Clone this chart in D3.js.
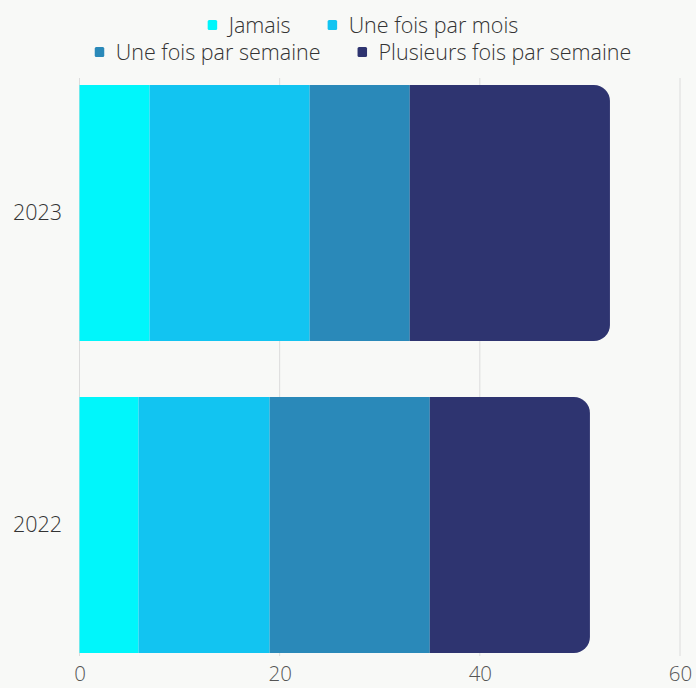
<!DOCTYPE html>
<html>
<head>
<meta charset="utf-8">
<script src="https://cdn.jsdelivr.net/npm/d3@7"></script>
<style>
  html, body { margin: 0; padding: 0; background: #f8f9f7; }
  svg { display: block; font-family: "Open Sans", sans-serif; font-weight: 300; }
</style>
</head>
<body>
<svg id="chart" width="696" height="688"></svg>
<script>
// Survey years and answer categories
const years = ["2023", "2022"];
const seriesNames = ["Jamais", "Une fois par mois", "Une fois par semaine", "Plusieurs fois par semaine"];
const seriesColors = ["#00f6fb", "#12c4f1", "#2a89b9", "#2e3470"];

// Share of respondents (%) per answer, one array per series, ordered like `years`
const jamais = [7, 5.9];
const foisParMois = [16, 13.1];
const foisParSemaine = [10, 16];
const plusieursParSemaine = [20, 16];

const xTicks = [0, 20, 40, 60];

const rows = years.map((y, i) => ({
  year: y,
  "Jamais": jamais[i],
  "Une fois par mois": foisParMois[i],
  "Une fois par semaine": foisParSemaine[i],
  "Plusieurs fois par semaine": plusieursParSemaine[i]
}));

const svg = d3.select("#chart");
const W = 696, H = 688;
const margin = { left: 79.5, right: 16, top: 57, bottom: 7 };
const FONT = 21.5;

const x = d3.scaleLinear().domain([0, 60]).range([margin.left, margin.left + 600.5]);
const y = d3.scaleBand().domain(years).range([margin.top, H - margin.bottom])
  .paddingInner(0.18).paddingOuter(0.09);
const color = d3.scaleOrdinal().domain(seriesNames).range(seriesColors);

// Vertical grid lines
svg.append("g")
  .selectAll("line")
  .data(xTicks)
  .join("line")
  .attr("x1", d => x(d)).attr("x2", d => x(d))
  .attr("y1", 78).attr("y2", 656)
  .attr("stroke", "#dcdcdc")
  .attr("stroke-width", 1);

// Stacked bars, the last segment rounded on its right end
const stacked = d3.stack().keys(seriesNames)(rows);
const r = 16;
const lastKey = seriesNames[seriesNames.length - 1];

function segPath(x0, x1, y0, h, rounded) {
  if (!rounded) return `M${x0},${y0}H${x1}V${y0 + h}H${x0}Z`;
  const rr = Math.min(r, (x1 - x0));
  return `M${x0},${y0}H${x1 - rr}A${rr},${rr} 0 0 1 ${x1},${y0 + rr}` +
         `V${y0 + h - rr}A${rr},${rr} 0 0 1 ${x1 - rr},${y0 + h}H${x0}Z`;
}

svg.append("g")
  .selectAll("g")
  .data(stacked)
  .join("g")
  .attr("fill", d => color(d.key))
  .each(function(s) {
    d3.select(this).selectAll("path")
      .data(s)
      .join("path")
      .attr("d", d => segPath(x(d[0]), x(d[1]), y(d.data.year), y.bandwidth(), s.key === lastKey));
  });

// X axis labels
const xAxis = d3.axisBottom(x).tickValues(xTicks).tickSize(0).tickPadding(0);
const gx = svg.append("g").attr("transform", `translate(0,${681})`).call(xAxis);
gx.select(".domain").remove();
gx.selectAll("text")
  .attr("y", 0)
  .attr("dy", 0)
  .attr("font-size", 20.5)
  .attr("font-family", "Open Sans, sans-serif")
  .attr("font-weight", 300)
  .attr("fill", "#555");

// Y axis labels
const yAxis = d3.axisLeft(y).tickSize(0).tickPadding(17.5);
const gy = svg.append("g").attr("transform", `translate(${margin.left},0)`).call(yAxis);
gy.select(".domain").remove();
gy.selectAll("text")
  .attr("font-size", FONT)
  .attr("font-family", "Open Sans, sans-serif")
  .attr("font-weight", 300)
  .attr("fill", "#333");

// Legend, two centred rows
const legendRows = [[seriesNames[0], seriesNames[1]], [seriesNames[2], seriesNames[3]]];
const legendY = [25, 52];
const legendCenter = 363;
legendRows.forEach((items, ri) => {
  const g = svg.append("g");
  let cx = 0;
  items.forEach((name) => {
    const item = g.append("g").attr("transform", `translate(${cx},0)`);
    item.append("rect")
      .attr("x", 0).attr("y", -5).attr("width", 9.5).attr("height", 10).attr("rx", 1.5)
      .attr("fill", color(name));
    const t = item.append("text")
      .attr("x", 21).attr("y", 0).attr("dy", "0.35em")
      .attr("font-size", FONT).attr("font-weight", 300).attr("fill", "#333")
      .text(name);
    const w = t.node().getComputedTextLength();
    cx += 21 + w + 37;
  });
  const total = cx - 37;
  g.attr("transform", `translate(${legendCenter - total / 2},${legendY[ri]})`);
});
</script>
</body>
</html>
